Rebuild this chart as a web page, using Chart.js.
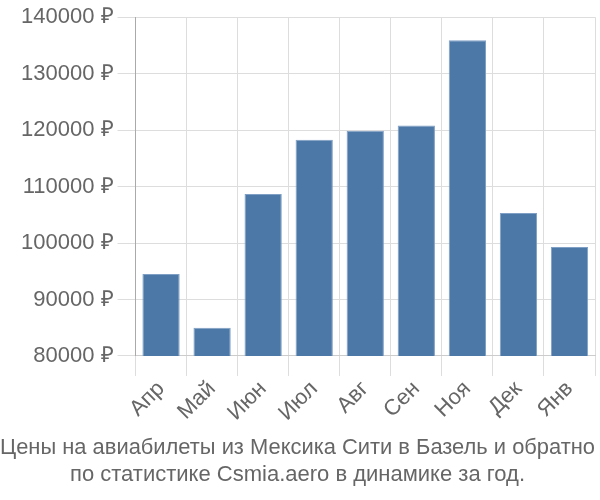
<!DOCTYPE html>
<html>
<head>
<meta charset="utf-8">
<script src="https://cdn.jsdelivr.net/npm/chart.js@4"></script>
<style>
html,body{margin:0;padding:0;background:#fff;}
#wrap{width:600px;height:500px;}
</style>
</head>
<body>
<div id="wrap"><canvas id="c" width="600" height="500"></canvas></div>
<script>
const categories = ["Апр","Май","Июн","Июл","Авг","Сен","Ноя","Дек","Янв"];
const prices = [94500, 85000, 108700, 118300, 119900, 120800, 135900, 105300, 99300];
const yTicks = [80000, 90000, 100000, 110000, 120000, 130000, 140000];
const titleLines = ["Цены на авиабилеты из Мексика Сити в Базель и обратно", "по статистике Csmia.aero в динамике за год."];

new Chart(document.getElementById('c'), {
  type: 'bar',
  data: {
    labels: categories,
    datasets: [{
      data: prices,
      backgroundColor: '#4c78a8',
      borderColor: '#7f9fc4',
      borderWidth: 1,
      categoryPercentage: 1.0,
      barPercentage: 0.73
    }]
  },
  options: {
    responsive: false,
    animation: false,
    layout: {padding: {left: 0, right: 5, top: 1, bottom: 8}},
    plugins: {
      legend: {display: false},
      tooltip: {enabled: false},
      title: {
        display: true,
        position: 'bottom',
        text: titleLines,
        color: '#666',
        font: {family: 'Liberation Sans', size: 22, weight: 'normal'},
        padding: {top: 9, bottom: 4},
        lineHeight: 1.2
      }
    },
    scales: {
      x: {
        grid: {color: '#dddddd', tickLength: 20, offset: true},
        border: {color: '#cccccc'},
        ticks: {
          color: '#666',
          font: {family: 'Liberation Sans', size: 22},
          maxRotation: 45, minRotation: 45,
          padding: 0
        }
      },
      y: {
        min: 80000, max: 140000,
        afterBuildTicks: (axis) => { axis.ticks = yTicks.map(v => ({value: v})); },
        afterFit: (axis) => { axis.width += 17; },
        grid: {color: '#dddddd', tickLength: 18},
        border: {color: '#aaaaaa'},
        ticks: {
          color: '#666',
          font: {family: 'Liberation Sans', size: 22},
          padding: 4,
          callback: (v) => v + ' ₽'
        }
      }
    }
  }
});
</script>
</body>
</html>
